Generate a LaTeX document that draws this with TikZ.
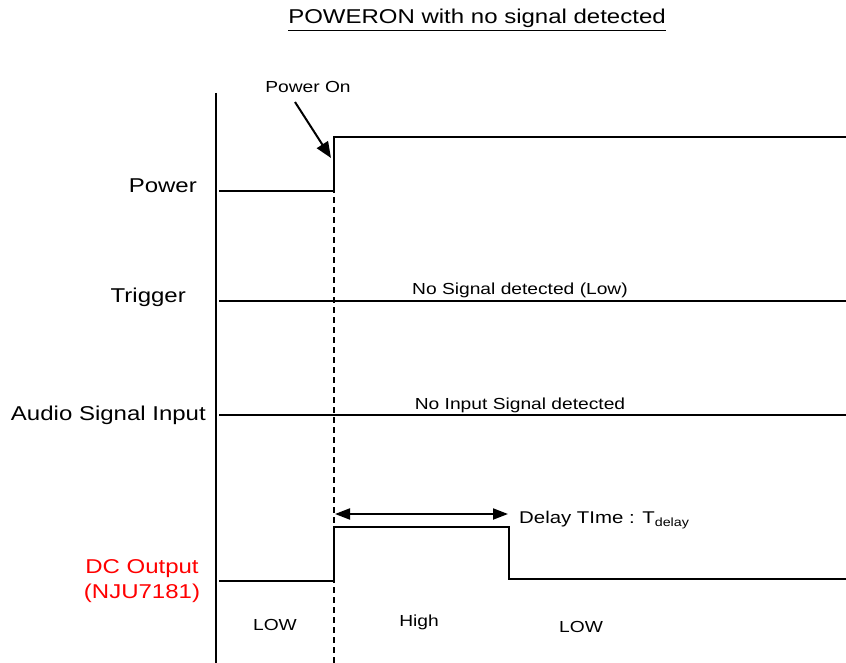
\documentclass[tikz,border=0pt]{standalone}
\usepackage{fontspec}
\setmainfont[FakeStretch=1.2]{Liberation Sans}
\usetikzlibrary{arrows.meta}
\begin{document}
\begin{tikzpicture}[x=1pt,y=-1pt,
  sig/.style={line width=2pt},
  lab/.style={font=\fontsize{20}{22}\selectfont, anchor=east, inner sep=0pt},
  small/.style={font=\fontsize{16}{18}\selectfont, inner sep=0pt},
  arr/.style={line width=2pt, -{Triangle[length=16pt,width=13pt]}}]
\useasboundingbox (0,0) rectangle (846,663);
% title
\node[font=\fontsize{20}{22}\selectfont, inner sep=0pt] (title) at (477,18) {POWERON with no signal detected};
\draw[line width=1.5pt] ([yshift=-3pt]title.south west) -- ([yshift=-3pt]title.south east);
% axis
\coordinate (axT) at (216,93);
\coordinate (axB) at (216,663);
\draw[line width=2pt] (axT) -- (axB);
% dashed marker
\coordinate (dT) at (334,137);
\coordinate (dB) at (334,663);
\draw[line width=2pt, dashed, dash pattern=on 6pt off 4pt] (dT) -- (dB);
% labels
\node[lab] (lpower) at (197,186) {Power};
\node[lab] (ltrig) at (186,297) {Trigger};
\node[lab] (laudio) at (206,415) {Audio Signal Input};
\node[font=\fontsize{20}{22}\selectfont, text=red, inner sep=0pt] (ldc1) at (142,569) {DC Output};
\node[font=\fontsize{20}{22}\selectfont, text=red, inner sep=0pt] (ldc2) at (142,593) {(NJU7181)};
% power signal
\coordinate (p0) at (219,191);
\coordinate (p1) at (334,191);
\coordinate (p2) at (334,137);
\coordinate (p3) at (846,137);
\draw[sig] (p0) -- (p1) -- (p2) -- (p3);
% power on arrow
\node[small] (pon) at (308,87) {Power On};
\coordinate (ponTip) at (331,158);
\draw[arr] (295,102) -- (ponTip);
% trigger
\coordinate (t0) at (219,301);
\coordinate (t1) at (846,301);
\draw[sig] (t0) -- (t1);
\node[small] (ttext) at (520,290) {No Signal detected (Low)};
% audio
\coordinate (a0) at (219,415);
\coordinate (a1) at (846,415);
\draw[sig] (a0) -- (a1);
\node[small] (atext) at (520,405) {No Input Signal detected};
% DC output
\coordinate (d0) at (219,581);
\coordinate (d1) at (334,581);
\coordinate (d2) at (334,527);
\coordinate (d3) at (509,527);
\coordinate (d4) at (509,579);
\coordinate (d5) at (846,579);
\draw[sig] (d0) -- (d1) -- (d2) -- (d3) -- (d4) -- (d5);
% delay arrow
\coordinate (dl0) at (335,514);
\coordinate (dl1) at (508,514);
\draw[line width=2pt, {Triangle[length=15pt,width=11pt]}-{Triangle[length=15pt,width=11pt]}] (dl0) -- (dl1);
\node[font=\fontsize{17}{19}\selectfont, anchor=west, inner sep=0pt] (dtext) at (519,520) {Delay TIme : T\textsubscript{delay}};
% bottom state labels
\node[small] (s1) at (275,625) {LOW};
\node[small] (s2) at (419,622) {High};
\node[small] (s3) at (581,627) {LOW};
\end{tikzpicture}
\end{document}
